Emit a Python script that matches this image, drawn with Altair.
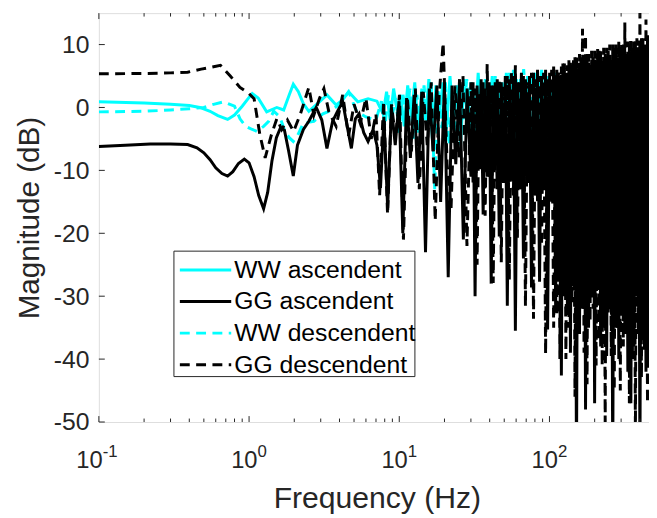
import numpy as np
import pandas as pd
import altair as alt

# ---------------- data ----------------
# GG ascendent (black solid)
GGA_F = [0.1, 0.15, 0.22, 0.3, 0.39, 0.45, 0.5, 0.55, 0.6, 0.66, 0.72, 0.78, 0.85, 0.93, 1.0,
         1.08, 1.16, 1.25, 1.33, 1.42, 1.52, 1.62, 1.72, 1.83, 1.97, 2.1, 2.3, 2.5, 2.8, 3.05,
         3.3, 3.6, 3.9, 4.2, 4.5, 4.8, 5.1, 5.4, 5.8, 6.2, 6.7, 7.1, 7.5]
GGA_V = [-6.2, -6.0, -5.8, -5.8, -5.9, -6.4, -7.2, -8.3, -9.6, -10.5, -10.9, -10.2, -8.9, -8.2, -8.8,
         -11.0, -14.0, -16.1, -13.5, -8.5, -4.8, -3.2, -3.6, -6.8, -10.9, -6.0, -3.5, -2.2, 0.0, -2.0,
         -6.5, -2.2, -0.5, 0.9, -3.0, -6.5, -1.8, -1.0, -4.0, -5.4, -3.5, -6.0, -12.8]
GGA_A = [-1.5, -16.0, 0.0, -6.0, 1.0, -20.0, 1.5, -8.0, 2.0, -12.0, 2.5, -23.0,
         3.0, -7.0, 3.5, -15.0, 4.0, -27.0, 3.5, -9.0, 4.5, -21.0, 3.0, -11.0]
GGA_B = [4.0, -30.0, 3.5, -9.0, 4.5, -17.0, 3.0, -11.0, 4.0, -28.0, 3.5, -10.0, 4.5, -20.5,
         4.0, -12.0, 5.0, -31.5, 4.5, -11.0, 5.0, -35.5, 4.0, -13.0, 5.5, -24.0, 4.5, -12.0,
         5.0, -28.6, 5.5, -14.0, 6.0, -27.7, 5.0, -13.0, 6.0, -35.3, 5.5, -15.0, 6.5, -32.6]
GGA_C = [6.0, -27.7, 5.0, -42.6, 7.0, -30.0, 5.5, -33.0, 7.5, -39.0, 6.5, -28.0, 8.0, -57.0,
         6.0, -36.0, 8.0, -32.0, 7.0, -48.0, 8.5, -35.0, 6.5, -30.0, 8.0, -47.0, 7.5, -29.0,
         9.0, -38.0, 7.0, -34.0, 8.5, -39.5, 9.0, -31.0, 7.5, -58.0, 9.5, -35.0, 8.0, -40.0,
         9.0, -33.0, 10.0, -36.0, 8.5, -42.0, 10.0, -47.0, 9.0, -38.0, 10.5, -30.0, 9.5,
         -56.0, 11.0, -37.0, 10.0, -42.0, 11.0, -40.0]

# GG descendent (black dashed)
GGD_F = [0.1, 0.2, 0.3, 0.39, 0.48, 0.56, 0.645, 0.75, 0.87, 1.0, 1.08, 1.18, 1.28, 1.41, 1.53,
         1.65, 1.8, 1.98, 2.2, 2.5, 2.7, 2.95, 3.15, 3.4, 3.8, 4.2, 4.6, 5.0, 5.5, 6.0, 6.5, 7.0]
GGD_V = [5.35, 5.4, 5.5, 5.6, 6.1, 6.4, 6.7, 5.0, 3.2, 2.2, 1.4, -4.3, -8.0, -4.3, -1.8,
         -3.5, -2.0, -3.8, -1.0, 3.2, -1.2, 1.5, 3.0, -0.7, -3.0, 2.0, -4.5, 0.5, -2.5, 1.5, -5.0, -1.0]
GGD_A = [-14.0, 1.0, -17.0, 0.5, -5.0, 2.0, -21.0, 1.5, -7.0, 3.0, -13.0, 2.5,
         -6.0, 4.0, -18.0, 2.0, 10.3, -9.0, -16.0, 3.5, -8.0, 5.0, -22.0, 4.0]
GGD_B = [-12.0, 3.0, -25.0, 2.5, -10.0, 4.0, -17.2, 6.9, -11.0, 3.5, -27.9, 4.0, -13.0, 4.5,
         -24.6, 3.5, -12.0, 5.0, -27.4, 5.9, -14.0, 6.7, -20.7, 4.5, -13.0, 5.0, -31.6, 4.0,
         -12.0, 5.5, -33.6, 4.5, -15.0, 5.0, -22.0, 5.5, -39.2, 4.5, -14.0, 6.0, -35.0, 5.5]
GGD_C = [-33.0, 6.0, -40.0, 6.5, -29.0, 7.0, -40.0, 6.7, -35.0, 7.5, -31.0, 7.5, -46.0, 8.0,
         -36.0, 8.5, -30.0, 12.5, -39.0, 11.5, -44.0, 8.5, -34.0, 9.0, -32.0, 9.0, -41.0, 9.5,
         -37.0, 9.0, -41.0, 9.5, -50.0, 9.5, -33.0, 10.0, -39.5, 10.0, -45.0, 10.0, -35.0, 10.5,
         -45.0, 10.0, -38.0, 13.5, -31.0, 10.5, -47.0, 11.0, -40.0, 10.5, -52.0, 11.0, -36.0,
         15.0, -43.0, 11.0, -39.0, 14.0, -47.0, 11.5]

# WW ascendent (cyan solid)
WWA_F = [0.1, 0.2, 0.3, 0.4, 0.47, 0.55, 0.62, 0.72, 0.8, 0.9, 1.0, 1.05, 1.15, 1.31, 1.53,
         1.7, 1.85, 1.97, 2.13, 2.3, 2.5, 2.94, 3.3, 3.8, 4.2, 4.6, 5.3, 6.2, 7.1]
WWA_V = [0.9, 0.7, 0.5, 0.3, 0.0, -0.6, -1.3, -1.9, -1.2, 0.2, 1.6, 2.2, 1.5, -0.7, 0.0,
         -0.4, 2.0, 3.7, 2.5, 0.6, -0.6, 0.9, 2.0, 0.4, 1.2, 2.5, 0.9, 1.4, 1.0]
WWA_B = [-1.0, 2.5, -2.0, 3.0, -0.5, 2.0, -3.0, 3.5, -1.5, 4.0, -4.0, 3.0, -2.0, 4.5, -5.0,
         3.5, -1.0, 4.0, -3.5, 5.0, -2.5, 3.5, -6.0, 4.5, -2.0, 4.0, -4.5, 5.5, -3.0, 4.5,
         -1.5, 5.0, -7.0, 4.0, -3.0, 5.5, -2.5, 6.0, -5.0, 4.5, -3.5, 5.0, -8.0, 5.5, -2.0,
         6.0, -4.0, 5.0, -3.0, 5.5]
WWA_C = [-4.0, 4.0, -8.0, 4.5, -5.0, 5.0, -10.0, 4.0, -6.0, 5.0, -9.0, 4.5, -7.0, 5.0,
         -11.0, 5.5, -6.0, 5.0, -8.0, 5.5]

# WW descendent (cyan dashed)
WWD_F = [0.1, 0.2, 0.3, 0.4, 0.5, 0.58, 0.68, 0.8, 0.87, 0.95, 1.05, 1.13, 1.25, 1.35, 1.46,
         1.6, 1.73, 1.85, 1.97, 2.1, 2.3, 2.7, 3.1, 3.5, 4.0, 4.6, 5.2, 6.0, 7.0]
WWD_V = [-0.7, -0.6, -0.4, -0.2, 0.0, 0.5, 0.9, 0.2, -1.8, -3.0, -3.5, -3.8, -3.0, -2.2, -0.6,
         -1.5, -3.7, -4.8, -5.4, -4.5, -2.5, -2.2, -1.0, -0.5, 0.5, 2.5, -0.6, -1.5, -2.0]
WWD_B = [1.0, -3.0, 2.0, -1.5, 1.5, -4.0, 2.5, -2.0, 3.0, -5.0, 2.0, -3.5, 3.5, -2.5, 4.0,
         -13.0, 3.0, -3.3, 4.0, -6.0, 2.5, -4.3, 3.5, -2.0, 4.5, -4.0, 3.0, -1.5, 4.0, -2.7,
         3.5, -1.0, 5.0, -3.0, 4.0, -1.5, 5.5, -6.0, 4.5, -2.0, 6.1, -1.5, 5.0, -2.5, 4.5,
         -1.0, 4.0, -3.0, 3.5, -1.0]
WWD_C = [0.0, 3.0, -2.0, 2.5, -1.0, 3.5, -2.5, 3.0, -1.5, 3.5]

LEG_LABELS = ["WW ascendent", "GG ascendent", "WW descendent", "GG descendent"]
DECADES = [0.1, 1, 10, 100]
EXPONENTS = ["-1", "0", "1", "2"]
MINOR = [0.2, 0.3, 0.4, 0.5, 0.6, 0.7, 0.8, 0.9, 2, 3, 4, 5, 6, 7, 8, 9,
         20, 30, 40, 50, 60, 70, 80, 90, 200, 300, 400]
YTICKS = [-50, -40, -30, -20, -10, 0, 10]

# ---------------- styling ----------------
W, H = 557, 414
FONT = "Liberation Sans"
INK = "#262626"
CYAN = "#00FFFF"
DASH = [10, 6.5]


def log_grid(f0, f1, n):
    # sample frequencies of a noisy segment (log-spaced bins)
    return list(np.logspace(np.log10(f0), np.log10(f1), n))


def build(sf, sv, segments):
    f = list(sf)
    v = list(sv)
    for f0, f1, vals in segments:
        f += log_grid(f0, f1, len(vals))
        v += list(vals)
    return pd.DataFrame({"f": f, "v": v})


gga = build(GGA_F, GGA_V, [(7.9, 30, GGA_A), (31, 110, GGA_B), (112, 460, GGA_C)])
ggd = build(GGD_F, GGD_V, [(7.4, 30, GGD_A), (31, 110, GGD_B), (112, 460, GGD_C)])
wwa = build(WWA_F, WWA_V, [(7.8, 110, WWA_B), (112, 460, WWA_C)])
wwd = build(WWD_F, WWD_V, [(7.6, 110, WWD_B), (112, 460, WWD_C)])

xs = alt.Scale(type="log", domain=[0.1, 460], nice=False)
ys = alt.Scale(domain=[-50, 15], nice=False, zero=False)

xaxis = alt.Axis(title="Frequency (Hz)", labels=False, ticks=False, domain=False, grid=False,
                 titleFont=FONT, titleFontSize=30.5, titleFontWeight="normal", titleColor=INK,
                 titleX=W / 2 + 3, titleY=86.5, titleBaseline="alphabetic", titleAlign="center")
yaxis = alt.Axis(title="Magnitude (dB)", values=YTICKS, ticks=False, tickSize=0, domain=False,
                 grid=False, labelFont=FONT, labelFontSize=25, labelColor=INK, labelPadding=10,
                 labelExpr="'' + datum.value",
                 titleFont=FONT, titleFontSize=30, titleFontWeight="normal", titleColor=INK,
                 titleAngle=270, titleX=-61, titleY=H / 2, titleBaseline="alphabetic",
                 titleAlign="center")

X = alt.X("f:Q", scale=xs, axis=xaxis)
Y = alt.Y("v:Q", scale=ys, axis=yaxis)


def line(df, color, dash):
    kw = dict(color=color, strokeWidth=3, clip=True)
    if dash:
        kw["strokeDash"] = DASH
    return alt.Chart(df).mark_line(**kw).encode(x=X, y=Y)


layers = [
    line(wwa, CYAN, False),
    line(wwd, CYAN, True),
    line(gga, "black", False),
    line(ggd, "black", True),
]

# inward ticks (MATLAB style)
maj = pd.DataFrame({"f": DECADES})
mnr = pd.DataFrame({"f": MINOR})
yt = pd.DataFrame({"v": YTICKS})
for df, ln in [(maj, 6), (mnr, 3.5)]:
    layers.append(alt.Chart(df).mark_rule(color=INK, strokeWidth=1).encode(
        x=X, y=alt.value(H), y2=alt.value(H - ln)))
    layers.append(alt.Chart(df).mark_rule(color=INK, strokeWidth=1).encode(
        x=X, y=alt.value(0), y2=alt.value(ln)))
layers.append(alt.Chart(yt).mark_rule(color=INK, strokeWidth=1).encode(
    y=Y, x=alt.value(0), x2=alt.value(6)))

# decade tick labels 10^n
for dec, ex in zip(DECADES, EXPONENTS):
    w10 = 26.7
    wex = 9.5 * len(ex)
    dx = (w10 - wex) / 2
    d = pd.DataFrame({"f": [dec]})
    layers.append(alt.Chart(d).mark_text(align="right", baseline="alphabetic", dx=dx,
                                         font=FONT, fontSize=24, color=INK).encode(
        x=X, y=alt.value(H + 46.7), text=alt.value("10")))
    layers.append(alt.Chart(d).mark_text(align="left", baseline="alphabetic", dx=dx,
                                         font=FONT, fontSize=17, color=INK).encode(
        x=X, y=alt.value(H + 35.3), text=alt.value(ex)))

# legend (drawn as guide marks)
one = pd.DataFrame({"k": [0]})
LX0, LX1, LY0, LY1 = 76, 320, 241, 368
layers.append(alt.Chart(one).mark_rect(fill="white", stroke=INK, strokeWidth=1).encode(
    x=alt.value(LX0), x2=alt.value(LX1), y=alt.value(LY0), y2=alt.value(LY1)))
row_y = [260, 292, 324, 356]
leg_colors = [CYAN, "black", CYAN, "black"]
leg_dash = [False, False, True, True]
for lab, col, dsh, ry in zip(LEG_LABELS, leg_colors, leg_dash, row_y):
    kw = dict(color=col, strokeWidth=3)
    if dsh:
        kw["strokeDash"] = DASH
    layers.append(alt.Chart(one).mark_rule(**kw).encode(
        x=alt.value(82), x2=alt.value(134), y=alt.value(ry)))
    layers.append(alt.Chart(one).mark_text(align="left", baseline="middle", font=FONT,
                                           fontSize=25, color="black").encode(
        x=alt.value(137), y=alt.value(ry), text=alt.value(lab)))

chart = alt.layer(*layers).properties(
    width=W, height=H,
    padding={"left": 92, "top": 2, "right": 0, "bottom": 94},
    autosize=alt.AutoSizeParams(type="none"),
).configure_view(stroke=INK, strokeWidth=1).configure(font=FONT)

chart.save("out.html", embed_options={"renderer": "svg", "actions": False})
